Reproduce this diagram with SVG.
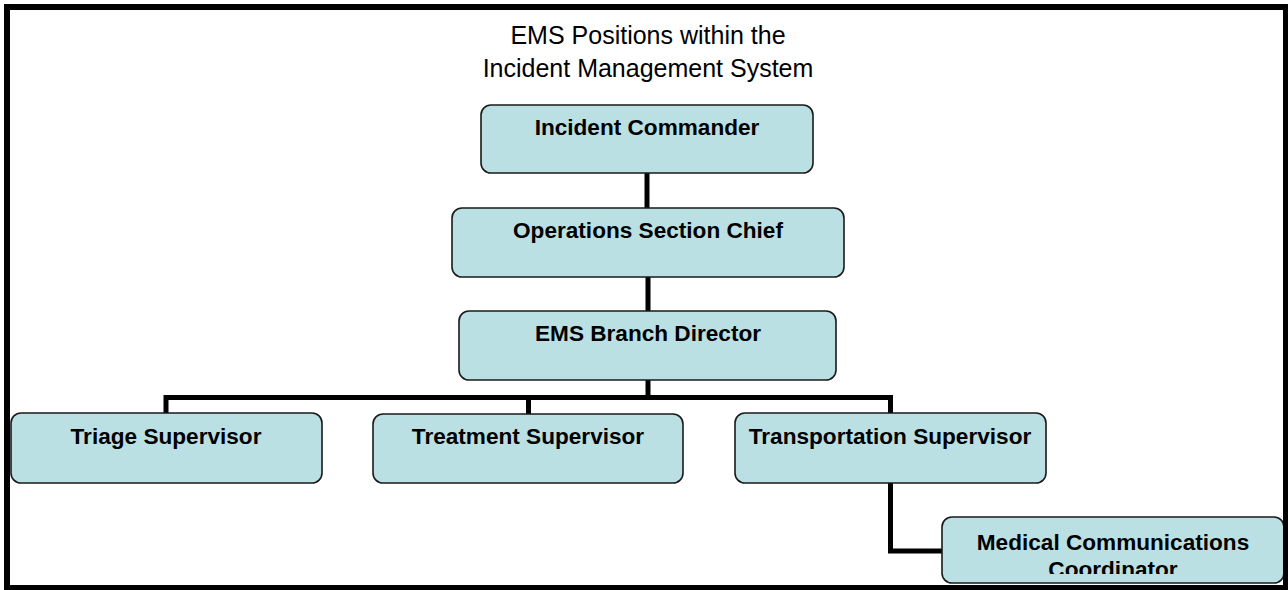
<svg xmlns="http://www.w3.org/2000/svg" width="1288" height="590" viewBox="0 0 1288 590">
<style>
.box{fill:#BBE0E3;stroke:#1a1a1a;stroke-width:1.6}
.lbl{font-family:"Liberation Sans",Arial,sans-serif;font-weight:bold;font-size:22.6px;fill:#000;text-anchor:middle}
.title{font-family:"Liberation Sans",Arial,sans-serif;font-size:25px;fill:#000;text-anchor:middle}
.conn{fill:none;stroke:#000;stroke-width:5}
</style>
<defs>
<clipPath id="mccclip"><rect x="942" y="517" width="342" height="57"/></clipPath>
</defs>
<rect x="0" y="0" width="1288" height="590" fill="#fff"/>
<g id="title">
<text class="title" x="648" y="44">EMS Positions within the</text>
<text class="title" x="648" y="77">Incident Management System</text>
</g>
<g id="connectors">
<line class="conn" x1="647" y1="173" x2="647" y2="208"/>
<line class="conn" x1="648" y1="277" x2="648" y2="311"/>
<line class="conn" x1="648" y1="380" x2="648" y2="398"/>
<polyline class="conn" points="166,413 166,397.5 890.5,397.5 890.5,413"/>
<line class="conn" x1="528.5" y1="397.5" x2="528.5" y2="414"/>
<polyline class="conn" points="890.5,483 890.5,551 942,551"/>
</g>
<g id="incident-commander">
<rect class="box" x="481" y="105" width="332" height="68" rx="10"/>
<text class="lbl" x="647" y="135">Incident Commander</text>
</g>
<g id="operations-section-chief">
<rect class="box" x="452" y="208" width="392" height="69" rx="10"/>
<text class="lbl" x="648" y="238">Operations Section Chief</text>
</g>
<g id="ems-branch-director">
<rect class="box" x="459" y="311" width="377" height="69" rx="10"/>
<text class="lbl" x="648" y="341">EMS Branch Director</text>
</g>
<g id="triage-supervisor">
<rect class="box" x="11" y="413" width="311" height="70" rx="10"/>
<text class="lbl" x="166" y="444">Triage Supervisor</text>
</g>
<g id="treatment-supervisor">
<rect class="box" x="373" y="414" width="310" height="69" rx="10"/>
<text class="lbl" x="528" y="444">Treatment Supervisor</text>
</g>
<g id="transportation-supervisor">
<rect class="box" x="735" y="413" width="311" height="70" rx="10"/>
<text class="lbl" x="890" y="444">Transportation Supervisor</text>
</g>
<g id="medical-communications-coordinator">
<rect class="box" x="942" y="517" width="342" height="66" rx="10"/>
<g clip-path="url(#mccclip)">
<text class="lbl" x="1113" y="550">Medical Communications</text>
<text class="lbl" x="1113" y="577">Coordinator</text>
</g>
</g>
<g id="frame">
<rect x="7" y="7" width="1279" height="581" fill="none" stroke="#000" stroke-width="6"/>
</g>
</svg>
